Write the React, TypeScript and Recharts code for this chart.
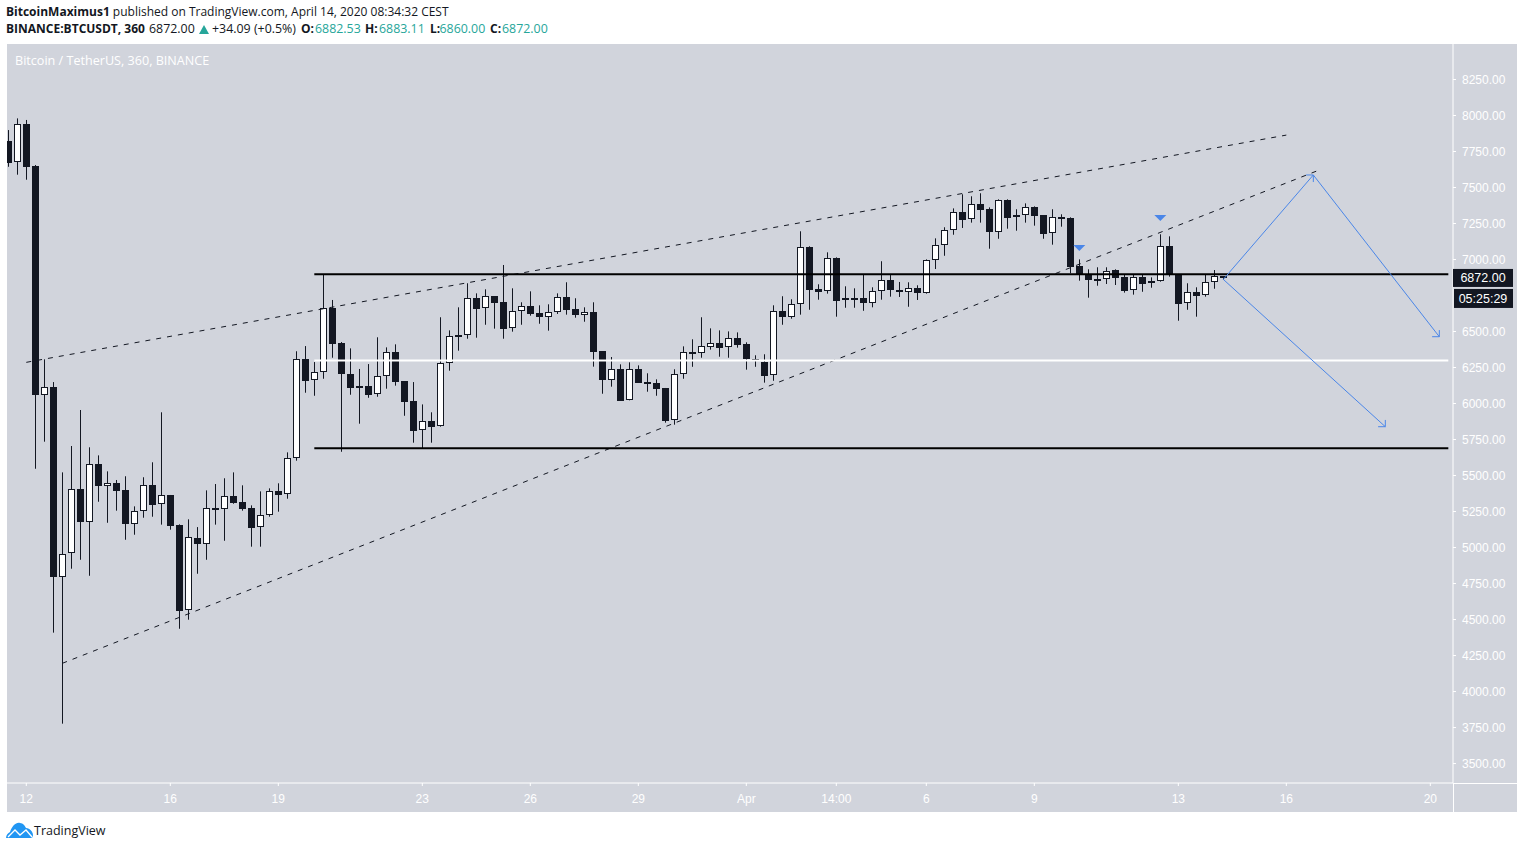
import React from "react";
import {
  Bar, ComposedChart, ReferenceDot, ReferenceLine, XAxis, YAxis,
} from "recharts";

/* ── Data ───────────────────────────────────────────── */

const opens = [
  7823, 7675, 7941, 7649, 6061, 6115, 4797, 4960, 5404, 5179,
  5578, 5429, 5446, 5397, 5165, 5251, 5432, 5300, 5363, 5154,
  4564, 5064, 5027, 5274, 5265, 5356, 5314, 5272, 5140, 5224,
  5390, 5370, 5620, 6307, 6161, 6217, 6665, 6418, 6203, 6122,
  6119, 6064, 6189, 6356, 6154, 6015, 5814, 5877, 5842, 6279,
  6474, 6474, 6733, 6661, 6745, 6703, 6522, 6640, 6675, 6626,
  6603, 6633, 6738, 6654, 6618, 6633, 6363, 6165, 6238, 6022,
  6238, 6147, 6140, 6106, 5883, 6203, 6356, 6349, 6394, 6418,
  6390, 6453, 6411, 6304, 6286, 6196, 6640, 6603, 6689, 7085,
  6793, 6779, 7008, 6717, 6728, 6731, 6696, 6779, 6856, 6786,
  6776, 6802, 6770, 6994, 7099, 7203, 7328, 7279, 7383, 7349,
  7193, 7411, 7293, 7307, 7362, 7307, 7182, 7293, 7288, 6953,
  6894, 6860, 6863, 6925, 6876, 6786, 6876, 6835, 6849, 7092,
  6897, 6696, 6772, 6751, 6842, 6882.53,
];
const highs = [
  7899, 7980, 7969, 7656, 6307, 6149, 5522, 5705, 5955, 5696,
  5640, 5529, 5469, 5495, 5286, 5488, 5592, 5939, 5365, 5161,
  5196, 5142, 5397, 5441, 5481, 5522, 5432, 5293, 5390, 5411,
  5446, 5661, 6363, 6399, 6288, 6897, 6719, 6427, 6383, 6240,
  6274, 6460, 6390, 6411, 6156, 6149, 5994, 5939, 6599, 6508,
  6668, 6835, 6765, 6793, 6745, 6962, 6800, 6703, 6779, 6682,
  6689, 6765, 6842, 6731, 6668, 6703, 6363, 6323, 6272, 6286,
  6265, 6210, 6168, 6108, 6238, 6397, 6446, 6599, 6522, 6508,
  6501, 6494, 6425, 6335, 6342, 6682, 6745, 6724, 7196, 7092,
  6828, 7050, 7015, 6814, 6800, 6897, 6807, 6988, 6892, 6844,
  6842, 6821, 7001, 7147, 7224, 7355, 7453, 7439, 7460, 7362,
  7418, 7418, 7349, 7390, 7369, 7307, 7349, 7314, 7293, 7001,
  6932, 6946, 6946, 6932, 6894, 6894, 6894, 6876, 7175, 7161,
  6897, 6835, 6807, 6894, 6927, 6883.11,
];
const lows = [
  7644, 7589, 7554, 5547, 5735, 4409, 3777, 4853, 4915, 4804,
  5318, 5172, 5256, 5054, 5089, 5207, 5214, 5159, 5124, 4436,
  4499, 4818, 4915, 5159, 5047, 5304, 5256, 5006, 5006, 5214,
  5249, 5339, 5603, 6075, 6054, 6172, 6318, 5665, 6061, 5860,
  6040, 6047, 6103, 6124, 5915, 5728, 5689, 5728, 5839, 6228,
  6367, 6450, 6457, 6547, 6520, 6450, 6499, 6547, 6610, 6554,
  6506, 6622, 6617, 6596, 6568, 6256, 6068, 6117, 6020, 6022,
  6145, 6082, 6054, 5867, 5853, 6172, 6255, 6318, 6374, 6325,
  6318, 6388, 6235, 6255, 6145, 6158, 6547, 6589, 6617, 6651,
  6721, 6763, 6603, 6665, 6665, 6644, 6668, 6721, 6742, 6740,
  6672, 6719, 6763, 6934, 7026, 7172, 7219, 7256, 7256, 7075,
  7144, 7214, 7200, 7256, 7235, 7144, 7103, 7228, 6904, 6853,
  6735, 6818, 6830, 6823, 6770, 6756, 6776, 6804, 6846, 6881,
  6575, 6651, 6603, 6742, 6797, 6860,
];
const closes = [
  7672, 7939, 7644, 6061, 6113, 4797, 4953, 5404, 5179, 5578,
  5429, 5446, 5395, 5165, 5251, 5432, 5297, 5363, 5152, 4561,
  5071, 5027, 5272, 5263, 5356, 5311, 5270, 5138, 5224, 5390,
  5367, 5620, 6307, 6158, 6217, 6661, 6415, 6207, 6110, 6110,
  6061, 6189, 6356, 6151, 6013, 5811, 5877, 5839, 6279, 6467,
  6462, 6731, 6658, 6745, 6700, 6520, 6640, 6675, 6624, 6603,
  6633, 6738, 6651, 6617, 6633, 6360, 6165, 6238, 6020, 6238,
  6145, 6138, 6103, 5881, 6203, 6356, 6346, 6397, 6418, 6388,
  6453, 6408, 6307, 6307, 6193, 6640, 6603, 6689, 7085, 6790,
  6776, 7008, 6714, 6735, 6731, 6696, 6779, 6856, 6786, 6776,
  6800, 6770, 6994, 7099, 7203, 7328, 7276, 7383, 7346, 7193,
  7411, 7290, 7307, 7362, 7304, 7179, 7293, 7283, 6950, 6890,
  6860, 6863, 6922, 6874, 6783, 6876, 6832, 6849, 7092, 6897,
  6693, 6772, 6749, 6842, 6883, 6872,
];

// 6750 sits under the last-price and countdown boxes in the reference
const priceTicks = [
  8250, 8000, 7750, 7500, 7250, 7000, 6500, 6250, 6000, 5750,
  5500, 5250, 5000, 4750, 4500, 4250, 4000, 3750, 3500,
];
const timeTicks = [2, 18, 30, 46, 58, 70, 82, 92, 102, 114, 130, 142, 158];
const timeLabels = ["12", "16", "19", "23", "26", "29", "Apr", "14:00", "6", "9", "13", "16", "20"];

// drawings, in [bar index, price]
const channelUpper = [[2, 6286], [142, 7864]];
const channelLower = [[6, 4196], [145.4, 7615]];
const resistance = [[34, 6897], [160, 6897]];
const midLevel = [[34, 6299], [160, 6299]];
const support = [[34, 5689], [160, 5689]];
const arrowPaths = [
  [[135, 6862], [145, 7587]],
  [[144.2, 7587], [145, 7587]],
  [[145, 7538], [145, 7587]],
  [[145, 7587], [159, 6464]],
  [[158.2, 6464], [159, 6464]],
  [[159, 6510], [159, 6464]],
  [[135, 6862], [153, 5839]],
  [[152.2, 5839], [153, 5839]],
  [[153, 5886], [153, 5839]],
];
const markers = [[119, 7080], [128, 7288]];

const LAST_PRICE = 6872;
const COUNTDOWN = "05:25:29";

/* ── Colors ─────────────────────────────────────────── */

const INK = "#131722";
const PANE = "#d1d4dc";
const BLUE = "#4a86e8";
const TEAL = "#26a69a";
const FONT = "'Liberation Sans', Arial, sans-serif";
const HEAD_FONT = "'Open Sans', sans-serif";

const candles = opens.map((open, i) => ({
  idx: i,
  open,
  high: highs[i],
  low: lows[i],
  close: closes[i],
  range: [lows[i], highs[i]],
}));

const seg = (s: number[][]) => s.map(([x, y]) => ({ x, y }));

// second header row: left edge, text, bold?, teal?
const quoteRow: [number, string, boolean, boolean][] = [
  [6, "BINANCE:BTCUSDT, 360", true, false],
  [149, "6872.00", false, false],
  [212, "+34.09 (+0.5%)", false, false],
  [301, "O:", true, false],
  [315, "6882.53", false, true],
  [365, "H:", true, false],
  [379, "6883.11", false, true],
  [430, "L:", true, false],
  [439.5, "6860.00", false, true],
  [490, "C:", true, false],
  [502, "6872.00", false, true],
];

/* ── Custom shapes ──────────────────────────────────── */

function CandleShape(props: any) {
  const { x, y, width, height, payload } = props;
  const { open, high, low, close } = payload;
  const perUnit = height / (high - low);
  const cx = Math.floor(x + width / 2) + 0.5;
  const bodyTop = Math.round(y + (high - Math.max(open, close)) * perUnit);
  const bodyBot = Math.round(y + (high - Math.min(open, close)) * perUnit);
  const isBull = close >= open;
  return (
    <g>
      <line x1={cx} x2={cx} y1={y} y2={y + height} stroke={INK} strokeWidth={1} />
      {isBull ? (
        <rect
          x={cx - 3}
          y={bodyTop + 0.5}
          width={6}
          height={Math.max(bodyBot - bodyTop - 1, 1)}
          fill="#ffffff"
          stroke={INK}
          strokeWidth={1}
        />
      ) : (
        <rect x={cx - 3.5} y={bodyTop} width={7} height={Math.max(bodyBot - bodyTop, 2)} fill={INK} />
      )}
    </g>
  );
}

function MarkerShape({ cx, cy }: any) {
  return <path d={`M${cx - 6} ${cy - 3}H${cx + 6}L${cx} ${cy + 3}Z`} fill={BLUE} />;
}

function LastPriceShape({ cx, cy }: any) {
  return (
    <g fontFamily={FONT} fontSize={12.5} fill="#ffffff" textAnchor="middle">
      <rect x={cx} y={cy - 9} width={60} height={18} fill={INK} />
      <text x={cx + 30} y={cy + 4.5}>{LAST_PRICE.toFixed(2)}</text>
      <rect x={cx + 1} y={cy + 11} width={59} height={19} fill={INK} />
      <text x={cx + 30} y={cy + 25}>{COUNTDOWN}</text>
    </g>
  );
}

function Logo() {
  return (
    <svg width={27} height={17} viewBox="0 0 27 17" style={{ position: "absolute", left: 6, top: 822 }}>
      <path
        d="M0 16 C0 13 2 11 4 10 C6 4 10 0 14 1 C17 1 19 4 20 6 C24 6 27 10 27 13 C27 15 26 16 25 16 Z"
        fill="#2196f3"
      />
      <path d="M2 15 L9 8 L14 13 L20 8 L26 15" fill="none" stroke="#ffffff" strokeWidth={1.3} />
    </svg>
  );
}

/* ── Main Component ─────────────────────────────────── */

export default function App() {
  return (
    <div style={{ position: "absolute", left: 0, top: 0, width: 1524, height: 849, background: "#fff", overflow: "hidden" }}>
      <div style={{ position: "absolute", left: 6, top: 3, fontFamily: HEAD_FONT, fontSize: 12, lineHeight: "18px", color: INK, whiteSpace: "nowrap" }}>
        <b>BitcoinMaximus1</b> published on TradingView.com, April 14, 2020 08:34:32 CEST
      </div>
      {quoteRow.map(([left, text, bold, teal]) => (
        <div
          key={left}
          style={{
            position: "absolute", left, top: 20, fontFamily: HEAD_FONT,
            fontSize: bold ? 12 : 12.4, fontWeight: bold ? 700 : 400, lineHeight: "18px",
            color: teal ? TEAL : INK, whiteSpace: "nowrap",
          }}
        >
          {text}
        </div>
      ))}
      <svg width={10} height={9} style={{ position: "absolute", left: 199, top: 25 }}>
        <path d="M0 9H10L5 0Z" fill={TEAL} />
      </svg>

      <div style={{ position: "absolute", left: 7, top: 44, width: 1510, height: 768, background: PANE }} />
      <div style={{ position: "absolute", left: 1453, top: 783, width: 1, height: 29, background: "#fff" }} />
      <div style={{ position: "absolute", left: 1453, top: 783, width: 64, height: 1, background: "#fff" }} />
      <div style={{ position: "absolute", left: 15, top: 52, fontFamily: HEAD_FONT, fontSize: 12.6, lineHeight: "18px", color: "#fff", whiteSpace: "nowrap" }}>
        Bitcoin / TetherUS, 360, BINANCE
      </div>

      <div style={{ position: "absolute", left: 0, top: 0 }}>
        <ComposedChart
          width={1524}
          height={849}
          data={candles}
          margin={{ top: 44, right: 0, left: 7, bottom: 0 }}
        >
          <XAxis
            dataKey="idx"
            type="number"
            domain={[-0.144, 160.52]}
            allowDataOverflow
            ticks={timeTicks}
            interval={0}
            height={66}
            stroke="#ffffff"
            tickSize={3}
            tickMargin={8}
            tick={{ fill: "#ffffff", fontSize: 12, fontFamily: FONT }}
            tickFormatter={(v: number) => timeLabels[timeTicks.indexOf(v)]}
          />
          <YAxis
            orientation="right"
            type="number"
            domain={[3365, 8496.5]}
            allowDataOverflow
            ticks={priceTicks}
            interval={0}
            width={71}
            stroke="#ffffff"
            tickSize={3}
            tickMargin={6}
            tick={{ fill: "#ffffff", fontSize: 12, fontFamily: FONT }}
            tickFormatter={(v: number) => v.toFixed(2)}
          />

          <Bar dataKey="range" barSize={7} shape={CandleShape} isAnimationActive={false} />

          <ReferenceLine segment={seg(channelUpper)} stroke={INK} strokeDasharray="5 6" ifOverflow="visible" />
          <ReferenceLine segment={seg(channelLower)} stroke={INK} strokeDasharray="5 6" ifOverflow="visible" />
          <ReferenceLine segment={seg(midLevel)} stroke="#ffffff" strokeWidth={2} ifOverflow="visible" />
          <ReferenceLine segment={seg(resistance)} stroke="#000000" strokeWidth={2} ifOverflow="visible" />
          <ReferenceLine segment={seg(support)} stroke="#000000" strokeWidth={2} ifOverflow="visible" />
          {arrowPaths.map((p, i) => (
            <ReferenceLine key={i} segment={seg(p)} stroke={BLUE} strokeWidth={1} ifOverflow="visible" />
          ))}
          {markers.map(([x, y], i) => (
            <ReferenceDot key={i} x={x} y={y} r={6} shape={MarkerShape} ifOverflow="visible" />
          ))}
          <ReferenceDot x={160.52} y={LAST_PRICE} r={1} shape={LastPriceShape} ifOverflow="visible" />
        </ComposedChart>
      </div>

      <Logo />
      <div style={{ position: "absolute", left: 34, top: 822, fontFamily: HEAD_FONT, fontSize: 12.5, lineHeight: "18px", color: INK }}>
        TradingView
      </div>
    </div>
  );
}
